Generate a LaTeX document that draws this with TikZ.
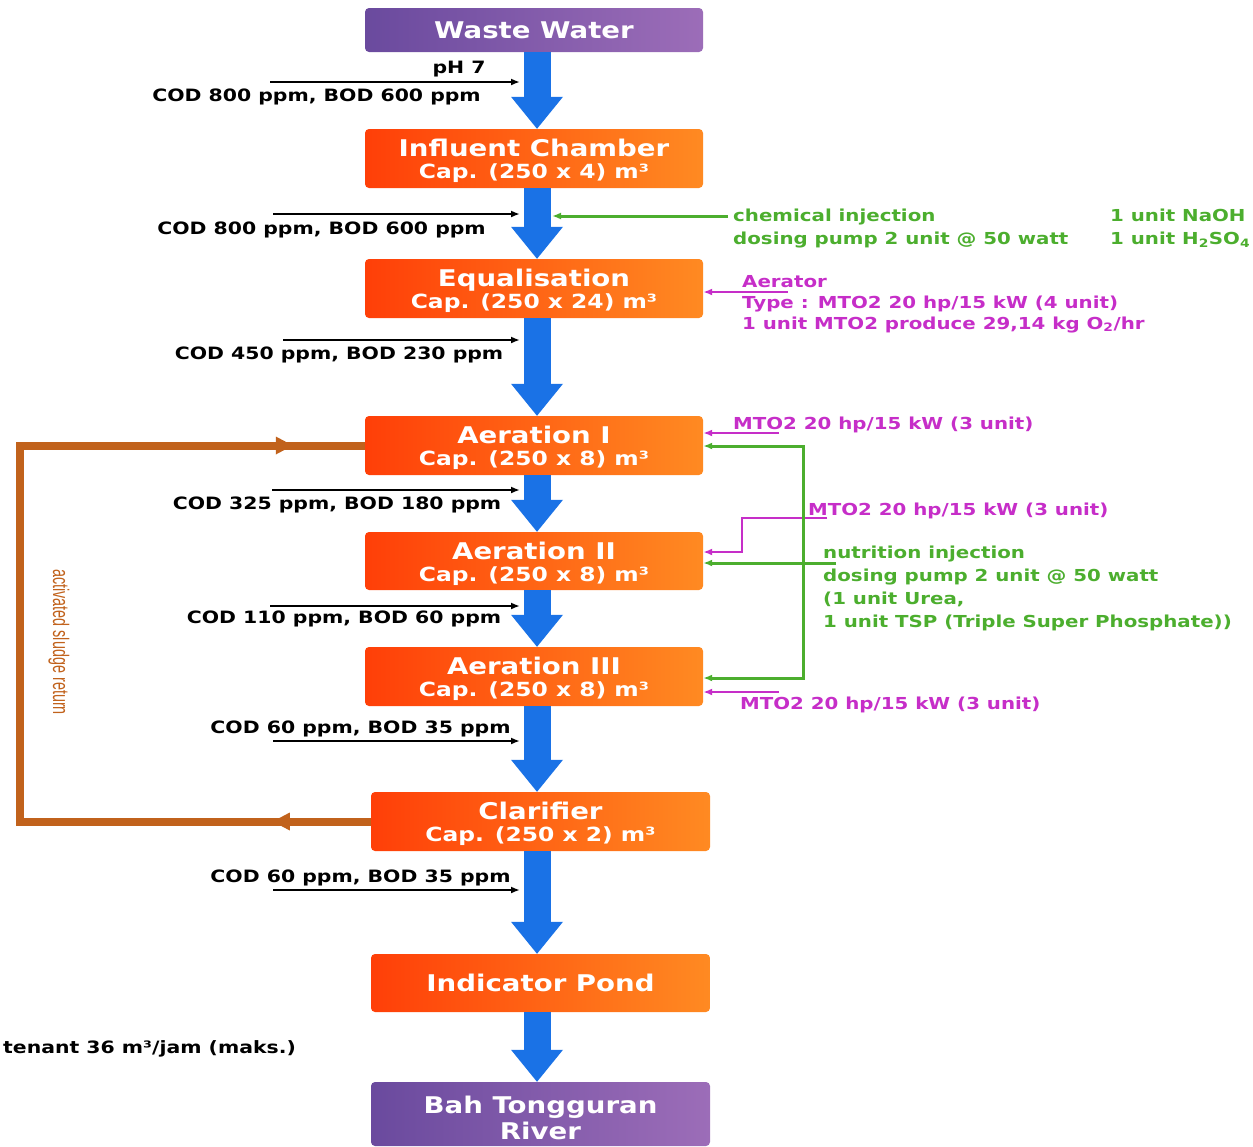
\documentclass[tikz,border=0pt]{standalone}
\usepackage{fontspec}
\setmainfont{DejaVu Sans}[FakeStretch=1.2]
\newfontfamily\sludgefont{Liberation Sans}[FakeStretch=0.64]
\usetikzlibrary{arrows.meta}

\definecolor{plL}{HTML}{6A4A9E}
\definecolor{plR}{HTML}{9C6DB8}
\definecolor{orL}{HTML}{FF3F08}
\definecolor{orR}{HTML}{FF8A22}
\definecolor{flowblue}{HTML}{1A72E6}
\definecolor{dosegreen}{HTML}{4CAE2E}
\definecolor{aermag}{HTML}{C62EC8}
\definecolor{sludge}{HTML}{C1621C}

\newcommand{\capline}{\fontsize{19.5}{21}\selectfont}
\newcommand{\tanklabel}[2]{\rule{0pt}{23pt}#1\\\capline #2}

\tikzset{
  tank/.style={rounded corners=4pt, left color=orL, right color=orR, text=white,
    minimum width=338pt, minimum height=59pt, inner sep=0pt, align=center,
    font=\bfseries\fontsize{23}{22}\selectfont},
  outer/.style={tank, left color=plL, right color=plR},
  flowarrow/.style={draw=flowblue, line width=27pt,
    -{Triangle[width=52pt,length=32pt,line width=0pt]}},
  reading/.style={line width=1.8pt, ->},
  readtext/.style={font=\bfseries\fontsize{17}{17}\selectfont, inner sep=0pt},
  dose/.style={draw=dosegreen, line width=3pt},
  dosetext/.style={text=dosegreen, font=\bfseries\fontsize{16.5}{23}\selectfont,
    align=left, inner sep=0pt, anchor=north west},
  aer/.style={draw=aermag, line width=2.5pt},
  aertext/.style={dosetext, text=aermag, font=\bfseries\fontsize{16.5}{21}\selectfont},
  sludgeline/.style={draw=sludge, line width=8pt},
}

\begin{document}
\begin{tikzpicture}[x=1pt, y=-1pt, >={Latex[length=9pt,width=7pt]}]
\useasboundingbox (0,0) rectangle (1253,1146);

\node[outer, minimum height=44pt] (ww) at (534,30) {Waste Water};
\node[tank] (inf) at (534,158.5) {\tanklabel{Influent Chamber}{Cap. (250 x 4) m³}};
\node[tank] (eq) at (534,288.5) {\tanklabel{Equalisation}{Cap. (250 x 24) m³}};
\node[tank] (aer1) at (534,445.5) {\tanklabel{Aeration I}{Cap. (250 x 8) m³}};
\node[tank, minimum height=58pt] (aer2) at (534,561) {\tanklabel{Aeration II}{Cap. (250 x 8) m³}};
\node[tank] (aer3) at (534,676.5) {\tanklabel{Aeration III}{Cap. (250 x 8) m³}};
\node[tank, minimum width=339pt] (clar) at (540.5,821.5) {\tanklabel{Clarifier}{Cap. (250 x 2) m³}};
\node[tank, minimum width=339pt, minimum height=58pt] (ind) at (540.5,983) {Indicator Pond};
\node[outer, minimum width=339pt, minimum height=64pt] (river) at (540.5,1114) {\rule{0pt}{25pt}Bah Tongguran\\[3pt]River};

\coordinate (axis) at (537,0);
\foreach \a/\b in {ww/inf, inf/eq, eq/aer1, aer1/aer2, aer2/aer3, aer3/clar, clar/ind, ind/river}
  \draw[flowarrow] (\a.south -| axis) -- (\b.north -| axis);

% readings along the main line
\coordinate (tap) at (520,0);
\foreach \n/\x/\y in {1/270/82, 2/273/214, 3/283/340, 4/272/490, 5/270/606, 6/273/741, 7/273/890}{
  \coordinate (r\n) at (\x,\y);
  \draw[reading] (r\n) -- (r\n -| tap);
}
\node[readtext, anchor=base] (ph) at (459,73) {pH 7};
\node[readtext, anchor=base] (q1) at (316.5,101) {COD 800 ppm, BOD 600 ppm};
\node[readtext, anchor=base] (q2) at (321.5,234) {COD 800 ppm, BOD 600 ppm};
\node[readtext, anchor=base] (q3) at (339,359) {COD 450 ppm, BOD 230 ppm};
\node[readtext, anchor=base] (q4) at (337,509) {COD 325 ppm, BOD 180 ppm};
\node[readtext, anchor=base] (q5) at (344,623) {COD 110 ppm, BOD 60 ppm};
\node[readtext, anchor=base] (q6) at (360.5,733) {COD 60 ppm, BOD 35 ppm};
\node[readtext, anchor=base] (q7) at (360.5,882) {COD 60 ppm, BOD 35 ppm};
\node[readtext, anchor=base west] (tenant) at (3,1053) {tenant 36 m³/jam (maks.)};

% chemical dosing
\coordinate (chem) at (728,216);
\coordinate (shaft) at (552,0);
\draw[dose,->] (chem) -- (chem -| shaft);
\node[dosetext] (chemtxt) at (733,209) {chemical injection\\dosing pump 2 unit @ 50 watt};
\node[dosetext] (chemlist) at (1110,209) {1 unit NaOH\\1 unit H\textsubscript{2}SO\textsubscript{4}};

% aerators
\coordinate (a0) at (788,292);
\draw[aer,->] (a0) -- (a0 -| eq.east);
\node[aertext] (a0txt) at (742,275) {Aerator\\Type : MTO2 20 hp/15 kW (4 unit)\\1 unit MTO2 produce 29,14 kg O\textsubscript{2}/hr};

\coordinate (a1) at (779,433);
\draw[aer,->] (a1) -- (a1 -| aer1.east);
\node[aertext] (a1txt) at (733,417) {MTO2 20 hp/15 kW (3 unit)};

\coordinate (a2) at (827,518);
\coordinate (a2k) at (742,518);
\coordinate (a2j) at (742,552);
\draw[aer,->] (a2) -- (a2k) -- (a2j) -- (a2j -| aer2.east);
\node[aertext] (a2txt) at (808,503) {MTO2 20 hp/15 kW (3 unit)};

\coordinate (a3) at (779,692);
\draw[aer,->] (a3) -- (a3 -| aer3.east);
\node[aertext] (a3txt) at (740,697) {MTO2 20 hp/15 kW (3 unit)};

% nutrition dosing
\coordinate (n1) at (803,446);
\coordinate (n2) at (836,563);
\coordinate (n3) at (803,678);
\draw[dose,<->] (n1 -| aer1.east) -- (n1) -- (n3) -- (n3 -| aer3.east);
\draw[dose,->] (n2) -- (n2 -| aer2.east);
\node[dosetext] (nutri) at (823,546) {nutrition injection\\dosing pump 2 unit @ 50 watt\\(1 unit Urea,\\1 unit TSP (Triple Super Phosphate))};

% sludge return
\coordinate (s1) at (20,821.5);
\coordinate (s2) at (20,445.5);
\draw[sludgeline] (clar.west) -- (s1) -- (s2) -- (aer1.west);
\draw[sludgeline, -{Triangle[width=18pt,length=17pt,line width=0pt]}] (clar.west) -- ([xshift=-98pt]clar.west);
\draw[sludgeline, -{Triangle[width=18pt,length=17pt,line width=0pt]}] (s2) -- ([xshift=-72pt]aer1.west);
\node[rotate=-90, text=sludge, font=\sludgefont\fontsize{22.5}{22}\selectfont] (sltxt) at (59,642) {activated sludge return};

\end{tikzpicture}
\end{document}
